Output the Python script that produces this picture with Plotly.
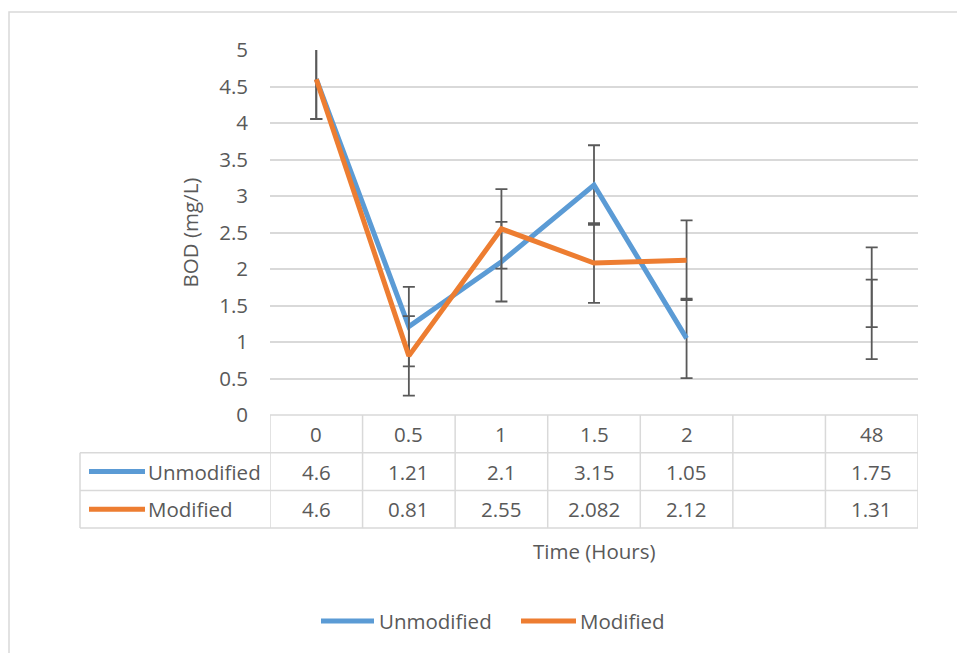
import plotly.graph_objects as go

# ---------------- data ----------------
categories = ["0", "0.5", "1", "1.5", "2", "", "48"]
unmodified = [4.6, 1.21, 2.1, 3.15, 1.05, None, 1.75]
modified = [4.6, 0.81, 2.55, 2.082, 2.12, None, 1.31]
unmodified_labels = ["4.6", "1.21", "2.1", "3.15", "1.05", "", "1.75"]
modified_labels = ["4.6", "0.81", "2.55", "2.082", "2.12", "", "1.31"]
error_unmodified = [0.545] * 7
error_modified = [0.545] * 7
y_ticks = [0, 0.5, 1, 1.5, 2, 2.5, 3, 3.5, 4, 4.5, 5]
series_names = ["Unmodified", "Modified"]

# ---------------- style ----------------
BLUE = "#5B9BD5"
ORANGE = "#ED7D31"
TXT = "#595959"
GRID = "#D9D9D9"
FONT = "Open Sans"
FS = 20.5

W, H = 957, 653
ML, MR, MT, MB = 270, 39, 50, 238
PW = W - ML - MR
PH = H - MT - MB


def px_x(p):  # pixel x -> paper x
    return (p - ML) / PW


def px_y(p):  # pixel y -> paper y
    return (H - MB - p) / PH


xs = list(range(len(categories)))

fig = go.Figure()
for name, vals, err, col in [
    ("Unmodified", unmodified, error_unmodified, BLUE),
    ("Modified", modified, error_modified, ORANGE),
]:
    fig.add_trace(go.Scatter(
        x=xs, y=vals, name=name, mode="lines",
        line=dict(color=col, width=5),
        connectgaps=False,
        error_y=dict(type="data", array=err, visible=True,
                     color=TXT, thickness=1.8, width=6),
        showlegend=False,
    ))

shapes = []
annotations = []

# chart border
shapes.append(dict(type="rect", xref="paper", yref="paper",
                   x0=px_x(9), x1=px_x(980), y0=px_y(12), y1=px_y(700),
                   line=dict(color=GRID, width=1.5), layer="below"))

# data table
row_h = 37.7
top = H - MB
rows_y = [top + row_h * k for k in range(4)]
shapes.append(dict(type="line", xref="x", yref="paper", x0=-0.5, x1=len(xs) - 0.5,
                   y0=px_y(rows_y[0]), y1=px_y(rows_y[0]), line=dict(color=GRID, width=1.5)))
for ry in rows_y[1:]:
    shapes.append(dict(type="line", xref="paper", yref="paper", x0=px_x(80), x1=1,
                       y0=px_y(ry), y1=px_y(ry), line=dict(color=GRID, width=1.5)))
for i in range(len(xs) + 1):
    shapes.append(dict(type="line", xref="x", yref="paper", x0=i - 0.5, x1=i - 0.5,
                       y0=px_y(rows_y[0]), y1=px_y(rows_y[3]), line=dict(color=GRID, width=1.5)))
shapes.append(dict(type="line", xref="paper", yref="paper", x0=px_x(80), x1=px_x(80),
                   y0=px_y(rows_y[1]), y1=px_y(rows_y[3]), line=dict(color=GRID, width=1.5)))

font = dict(family=FONT, size=FS, color=TXT)
for i, c in enumerate(categories):
    for k, lab in enumerate([c, unmodified_labels[i], modified_labels[i]]):
        if lab:
            annotations.append(dict(xref="x", yref="paper", x=i,
                                    y=px_y((rows_y[k] + rows_y[k + 1]) / 2),
                                    text=lab, showarrow=False, font=font,
                                    xanchor="center", yanchor="middle"))

for k, (name, col) in enumerate(zip(series_names, [BLUE, ORANGE])):
    cy = px_y((rows_y[k + 1] + rows_y[k + 2]) / 2)
    shapes.append(dict(type="line", xref="paper", yref="paper", x0=px_x(89), x1=px_x(145),
                       y0=cy, y1=cy, line=dict(color=col, width=5)))
    annotations.append(dict(xref="paper", yref="paper", x=px_x(146), y=cy, text=name,
                            showarrow=False, font=font, xanchor="left", yanchor="middle"))

# bottom legend
leg_y = px_y(621)
for (x0, x1, tx), name, col in zip([(321, 374, 377), (521, 576, 578)], series_names, [BLUE, ORANGE]):
    shapes.append(dict(type="line", xref="paper", yref="paper", x0=px_x(x0), x1=px_x(x1),
                       y0=leg_y, y1=leg_y, line=dict(color=col, width=5)))
    annotations.append(dict(xref="paper", yref="paper", x=px_x(tx), y=leg_y, text=name,
                            showarrow=False, font=font, xanchor="left", yanchor="middle"))

# x axis title
annotations.append(dict(xref="paper", yref="paper", x=0.5, y=px_y(551), text="Time (Hours)",
                        showarrow=False, font=font, xanchor="center", yanchor="middle"))

fig.update_layout(
    width=W, height=H,
    margin=dict(l=ML, r=MR, t=MT, b=MB, autoexpand=False),
    paper_bgcolor="white", plot_bgcolor="white",
    font=font,
    showlegend=False,
    shapes=shapes,
    annotations=annotations,
    xaxis=dict(range=[-0.5, len(xs) - 0.5], showticklabels=False, showgrid=False,
               zeroline=False, showline=False, ticks="", fixedrange=True),
    yaxis=dict(range=[0, 5], tickvals=y_ticks, ticktext=[f"{v:g}" for v in y_ticks],
               showgrid=True, gridcolor=GRID, gridwidth=1.5, zeroline=False,
               showline=False, ticks="", ticklabelstandoff=21,
               tickfont=font,
               title=dict(text="BOD (mg/L)", font=font, standoff=14)),
)

fig.write_html("out.html", config={"displayModeBar": False},
               post_script="document.body.style.margin='0';document.body.style.overflow='hidden';")
